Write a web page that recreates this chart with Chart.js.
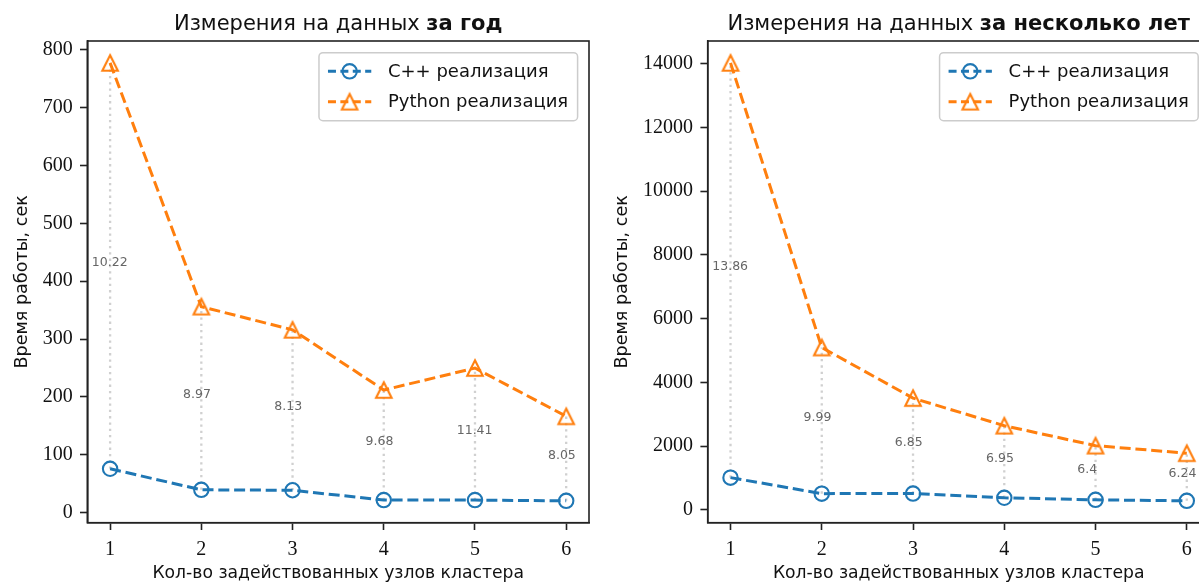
<!DOCTYPE html>
<html>
<head>
<meta charset="utf-8">
<script src="https://cdn.jsdelivr.net/npm/chart.js@4.4.1/dist/chart.umd.min.js"></script>
<style>
  html, body { margin: 0; padding: 0; background: #fff; overflow: hidden; width: 1199px; height: 582px; }
  canvas { position: absolute; top: 0; }
  #yearChart { left: 0; }
  #multiChart { left: 600px; }
</style>
</head>
<body>
<canvas id="yearChart" width="600" height="582"></canvas>
<canvas id="multiChart" width="630" height="582"></canvas>
<script>
// Number of cluster nodes used in each run
const nodes = [1, 2, 3, 4, 5, 6];

// Run time (s) on one year of data
const cppYear = [76, 39.7, 38.9, 21.9, 21.9, 20.7];
const pyYear = [777, 356, 316, 212, 250, 166.6];
const speedupYear = ['10.22', '8.97', '8.13', '9.68', '11.41', '8.05'];
const yearTicks = [0, 100, 200, 300, 400, 500, 600, 700, 800];

// Run time (s) on several years of data
const cppMulti = [1012, 510, 512, 380, 315, 285];
const pyMulti = [14026, 5095, 3507, 2641, 2016, 1778];
const speedupMulti = ['13.86', '9.99', '6.85', '6.95', '6.4', '6.24'];
const multiTicks = [0, 2000, 4000, 6000, 8000, 10000, 12000, 14000];

const labelCpp = 'C++ реализация';
const labelPy = 'Python реализация';
const xTitle = 'Кол-во задействованных узлов кластера';
const yTitle = 'Время работы, сек';
const titleLead = 'Измерения на данных ';

const BLUE = '#1f77b4';
const ORANGE = '#ff7f0e';
const INK = '#111111';
const SANS = '"DejaVu Sans"';
const DASH = [11, 4.8];
const LINE_W = 3;

// hollow triangle marker, centred on its bounding box
function triangleMarker(color) {
  const c = document.createElement('canvas');
  c.width = 26; c.height = 26;
  const g = c.getContext('2d');
  const s = 15.5;
  g.beginPath();
  g.moveTo(13, 13 - s / 2);
  g.lineTo(13 + s / 2, 13 + s / 2);
  g.lineTo(13 - s / 2, 13 + s / 2);
  g.closePath();
  g.lineWidth = 2.1;
  g.strokeStyle = color;
  g.stroke();
  return c;
}
const triPy = triangleMarker(ORANGE);

function paddedLimits(a, b) {
  const all = a.concat(b);
  const lo = Math.min(...all), hi = Math.max(...all);
  const m = (hi - lo) * 0.05;
  return [lo - m, hi + m];
}

const decor = {
  id: 'decor',
  beforeDatasetsDraw(chart, args, opts) {
    const ctx = chart.ctx, xs = chart.scales.x, ys = chart.scales.y;
    ctx.save();
    // dotted connectors between the two implementations
    ctx.strokeStyle = '#d0d0d0';
    ctx.lineWidth = 2.3;
    ctx.setLineDash([2.3, 4]);
    nodes.forEach((n, i) => {
      const x = xs.getPixelForValue(n);
      ctx.beginPath();
      ctx.moveTo(x, ys.getPixelForValue(opts.cpp[i]));
      ctx.lineTo(x, ys.getPixelForValue(opts.py[i]));
      ctx.stroke();
    });
    ctx.setLineDash([]);
    // speed-up ratios at the middle of each connector
    ctx.fillStyle = '#666666';
    ctx.font = '12.5px ' + SANS;
    ctx.textAlign = 'left';
    ctx.textBaseline = 'alphabetic';
    nodes.forEach((n, i) => {
      const x = xs.getPixelForValue(n - 0.2);
      const y = ys.getPixelForValue((opts.cpp[i] + opts.py[i]) / 2);
      ctx.fillText(opts.ratios[i], x, y);
    });
    ctx.restore();
  },
  afterDatasetsDraw(chart, args, opts) {
    const ctx = chart.ctx, ca = chart.chartArea;
    ctx.save();
    // frame on all four sides
    ctx.strokeStyle = '#222222';
    ctx.lineWidth = 1.6;
    ctx.strokeRect(ca.left, ca.top, ca.right - ca.left, ca.bottom - ca.top);

    // legend in the upper right corner
    const fs = 18;
    ctx.font = fs + 'px ' + SANS;
    const sets = chart.data.datasets;
    const textW = Math.max(...sets.map(d => ctx.measureText(d.label).width));
    const padL = 9, handleW = 43.3, gap = 16.7, padR = 9.4;
    const boxW = padL + handleW + gap + textW + padR, boxH = 68;
    const right = ca.right - 11.4, top = ca.top + 11.7, left = right - boxW;
    ctx.beginPath();
    ctx.roundRect(left, top, boxW, boxH, 4);
    ctx.fillStyle = 'rgba(255,255,255,0.8)';
    ctx.fill();
    ctx.strokeStyle = '#cccccc';
    ctx.lineWidth = 1.5;
    ctx.stroke();
    const rows = [top + 18.6, top + 49];
    sets.forEach((d, i) => {
      const y = rows[i];
      const x0 = left + padL, x1 = x0 + handleW, xm = (x0 + x1) / 2;
      ctx.strokeStyle = d.borderColor;
      ctx.lineWidth = LINE_W;
      ctx.setLineDash([8, 4.4]);
      ctx.beginPath();
      ctx.moveTo(x0, y); ctx.lineTo(x1, y);
      ctx.stroke();
      ctx.setLineDash([]);
      if (d.pointStyle === 'circle') {
        ctx.lineWidth = 2.1;
        ctx.beginPath();
        ctx.arc(xm, y, d.pointRadius, 0, Math.PI * 2);
        ctx.stroke();
      } else {
        ctx.drawImage(d.pointStyle, xm - d.pointStyle.width / 2, y - d.pointStyle.height / 2);
      }
      ctx.fillStyle = INK;
      ctx.textAlign = 'left';
      ctx.textBaseline = 'middle';
      ctx.fillText(d.label, x1 + gap, y + 1);
    });
    ctx.restore();
  },
  afterDraw(chart, args, opts) {
    const ctx = chart.ctx, ca = chart.chartArea;
    const cx = (ca.left + ca.right) / 2, cy = (ca.top + ca.bottom) / 2;
    ctx.save();
    ctx.fillStyle = INK;
    // title: regular lead-in followed by a bold period
    const tfs = 21;
    ctx.textBaseline = 'alphabetic';
    ctx.textAlign = 'left';
    ctx.font = tfs + 'px ' + SANS;
    const w1 = ctx.measureText(titleLead).width;
    ctx.font = 'bold ' + tfs + 'px ' + SANS;
    const w2 = ctx.measureText(opts.period).width;
    const tx = cx - (w1 + w2) / 2;
    ctx.font = tfs + 'px ' + SANS;
    ctx.fillText(titleLead, tx, 30);
    ctx.font = 'bold ' + tfs + 'px ' + SANS;
    ctx.fillText(opts.period, tx + w1, 30);
    // axis titles
    ctx.font = '17.2px ' + SANS;
    ctx.textAlign = 'center';
    ctx.fillText(xTitle, cx, 578);
    ctx.font = '17.6px ' + SANS;
    ctx.translate(opts.yTitleX, cy);
    ctx.rotate(-Math.PI / 2);
    ctx.textBaseline = 'middle';
    ctx.fillText(yTitle, 0, 0);
    ctx.restore();
  }
};

function makeChart(id, cpp, py, ratios, yTicks, period, padLeft, padRight, yTitleX) {
  const [ymin, ymax] = paddedLimits(cpp, py);
  const axisCommon = {
    type: 'linear',
    grid: { drawOnChartArea: false, drawTicks: true, tickLength: 7.3, tickWidth: 1.6, tickColor: '#222222' },
    border: { display: true, color: '#222222', width: 1.6 },
    ticks: {
      font: { family: 'Liberation Serif', size: 20 },
      color: INK, padding: 7.3, autoSkip: false, maxRotation: 0,
      callback: v => String(v)
    }
  };
  return new Chart(document.getElementById(id), {
    type: 'line',
    data: {
      datasets: [
        {
          label: labelCpp,
          data: nodes.map((n, i) => ({ x: n, y: cpp[i] })),
          borderColor: BLUE, borderWidth: LINE_W, borderDash: DASH,
          pointStyle: 'circle', pointRadius: 7.2, pointBorderWidth: 2.1,
          pointBorderColor: BLUE, pointBackgroundColor: 'rgba(0,0,0,0)',
          fill: false, tension: 0
        },
        {
          label: labelPy,
          data: nodes.map((n, i) => ({ x: n, y: py[i] })),
          borderColor: ORANGE, borderWidth: LINE_W, borderDash: DASH,
          pointStyle: triPy, pointRadius: 8,
          fill: false, tension: 0
        }
      ]
    },
    options: {
      responsive: false,
      animation: false,
      events: [],
      layout: { padding: { left: padLeft, right: padRight, top: 41, bottom: 19.3 } },
      plugins: {
        legend: { display: false },
        tooltip: { enabled: false },
        title: { display: false },
        decor: { cpp, py, ratios, period, yTitleX }
      },
      scales: {
        x: Object.assign({}, axisCommon, {
          min: 0.75, max: 6.25,
          afterBuildTicks: s => { s.ticks = nodes.map(v => ({ value: v })); },
          afterFit: s => { s.height = 40; }
        }),
        y: Object.assign({}, axisCommon, {
          min: ymin, max: ymax,
          afterBuildTicks: s => { s.ticks = yTicks.map(v => ({ value: v })); },
          afterFit: s => { s.width = 80; }
        })
      }
    },
    plugins: [decor]
  });
}

makeChart('yearChart', cppYear, pyYear, speedupYear, yearTicks, 'за год', 7.3, 10.8, 22);
makeChart('multiChart', cppMulti, pyMulti, speedupMulti, multiTicks, 'за несколько лет', 27.7, 20.4, 22);
</script>
</body>
</html>
